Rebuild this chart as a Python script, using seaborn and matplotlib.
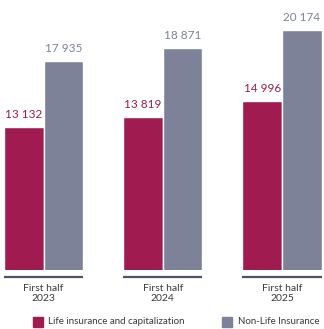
import matplotlib
matplotlib.use("Agg")
import matplotlib.pyplot as plt
import seaborn as sns
import pandas as pd
from matplotlib.patches import Rectangle
import matplotlib.transforms as mtransforms

periods = ["First half\n2023", "First half\n2024", "First half\n2025"]
life = [13132, 13819, 14996]
nonlife = [17935, 18871, 20174]
series = ["Life insurance and capitalization", "Non-Life Insurance"]
colors = ["#A01C50", "#7D8299"]

df = pd.DataFrame({
    "period": periods * 2,
    "value": life + nonlife,
    "series": [series[0]] * 3 + [series[1]] * 3,
})

sns.set_theme(style="white")
plt.rcParams["font.family"] = ["Lato", "DejaVu Sans"]

fig = plt.figure(figsize=(3.24, 3.29), dpi=100)
ax = fig.add_axes([0, (329 - 270) / 329, 1, 270 / 329])
sns.barplot(data=df, x="period", y="value", hue="series", palette=colors,
            width=0.665, saturation=1, legend=False, ax=ax)

ax.set_xlim(-0.365, 2.352)
ax.set_ylim(2658, 22395)
for s in ax.spines.values():
    s.set_visible(False)
ax.set_yticks([])
ax.set_xlabel("")
ax.set_ylabel("")
ax.tick_params(axis="x", length=0, pad=10, labelsize=7.5, labelcolor="#3a3a3a")

def fmt(v):
    return f"{v:,}".replace(",", " ")

for cont, col in zip(ax.containers, colors):
    for bar, v in zip(cont, cont.datavalues):
        ax.annotate(fmt(int(v)), (bar.get_x() + bar.get_width() / 2, bar.get_height()),
                    xytext=(0, 5), textcoords="offset points", ha="center", va="bottom",
                    fontsize=8.5, color=col)

trans = mtransforms.blended_transform_factory(ax.transData, ax.transAxes)
for i in range(len(periods)):
    ax.plot([i - 0.333, i + 0.333], [-0.027, -0.027], transform=trans,
            color="#4A5468", lw=1.6, clip_on=False, solid_capstyle="butt")

# legend
fig.patches.append(Rectangle((33 / 324, 1 - 327 / 329), 10 / 324, 10 / 329,
                             transform=fig.transFigure, color=colors[0]))
fig.text(48 / 324, 1 - 322 / 329, series[0], fontsize=7, color="#3a3a3a", va="center")
fig.patches.append(Rectangle((222 / 324, 1 - 327 / 329), 10 / 324, 10 / 329,
                             transform=fig.transFigure, color=colors[1]))
fig.text(238 / 324, 1 - 322 / 329, series[1], fontsize=7, color="#3a3a3a", va="center")

fig.savefig("out.png", dpi=100)
